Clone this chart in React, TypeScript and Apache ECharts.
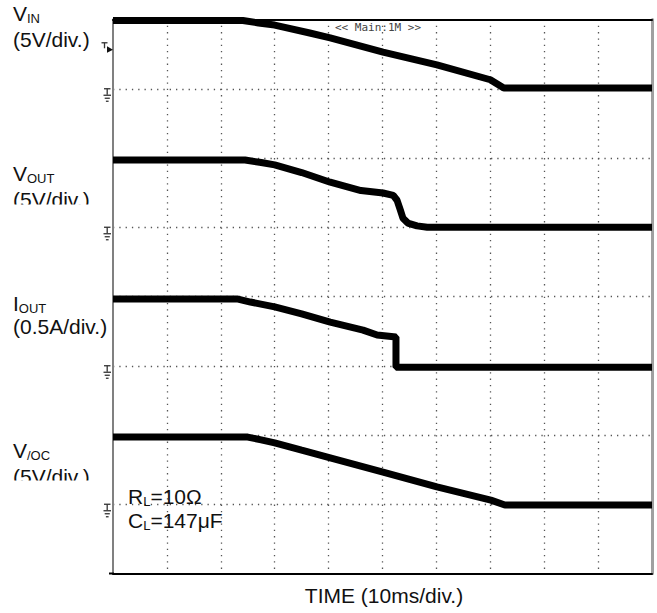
import React, { useEffect, useRef } from 'react';
import * as echarts from 'echarts';

// Screen divisions
const X_DIVS = 10;
const Y_DIVS = 8;

// Traces, time in divisions (10 ms/div), level in screen divisions
const VIN_TIME = [0, 2.41, 2.7, 3.0, 3.65, 4.03, 5.01, 6.01, 7.0, 7.25, 10];
const VIN_LEVEL = [7.985, 7.985, 7.95, 7.92, 7.805, 7.735, 7.53, 7.345, 7.13, 7.01, 7.01];

const VOUT_TIME = [0, 2.45, 2.75, 3.0, 3.5, 4.03, 4.6, 5.01, 5.2, 5.27, 5.33, 5.38, 5.47, 5.64, 5.83, 10];
const VOUT_LEVEL = [5.97, 5.97, 5.935, 5.9, 5.79, 5.65, 5.53, 5.495, 5.46, 5.39, 5.25, 5.13, 5.06, 5.02, 5.0, 5.0];

const IOUT_TIME = [0, 2.3, 2.55, 3.0, 3.5, 4.03, 4.64, 4.9, 5.25, 5.25, 10];
const IOUT_LEVEL = [3.965, 3.965, 3.92, 3.85, 3.75, 3.63, 3.515, 3.445, 3.415, 2.98, 2.98];

const VOC_TIME = [0, 2.5, 2.75, 3.0, 3.5, 4.03, 5.01, 6.01, 7.01, 7.27, 10];
const VOC_LEVEL = [1.97, 1.97, 1.93, 1.885, 1.78, 1.67, 1.465, 1.25, 1.06, 0.99, 0.99];

const GROUND_LEVELS = [7, 5, 3, 1];
const TRIGGER_LEVEL = 7.57;

const FONT = "'Liberation Sans', Arial, Helvetica, sans-serif";

function zip(t: number[], v: number[]) {
  return t.map((x, i) => [x, v[i]]);
}

export default function App() {
  const ref = useRef<HTMLDivElement>(null);

  useEffect(() => {
    if (!ref.current) return;
    const chart = echarts.init(ref.current, null, { renderer: 'svg' });

    const dotted = { color: '#555', width: 1.3, type: [1.3, 5] as any };
    const traceStyle = { color: '#000', width: 7 };

    const mkSeries = (name: string, t: number[], v: number[]) => ({
      name,
      type: 'line',
      data: zip(t, v),
      showSymbol: false,
      symbol: 'none',
      clip: false,
      silent: true,
      z: 3,
      lineStyle: traceStyle,
    });

    chart.setOption({
      animation: false,
      backgroundColor: '#fff',
      grid: { left: 113, top: 19.5, width: 539, height: 554 },
      xAxis: [
        {
          type: 'value', min: 0, max: X_DIVS, interval: 1, position: 'bottom',
          axisLine: { show: true, onZero: false, lineStyle: { color: '#000', width: 2 } },
          axisTick: { show: false }, axisLabel: { show: false },
          splitLine: { show: true, showMinLine: false, showMaxLine: false, lineStyle: dotted },
        },
        {
          type: 'value', min: 0, max: X_DIVS, interval: 1, position: 'top',
          axisLine: { show: true, onZero: false, lineStyle: { color: '#000', width: 2 } },
          axisTick: { show: false }, axisLabel: { show: false }, splitLine: { show: false },
        },
      ],
      yAxis: [
        {
          type: 'value', min: 0, max: Y_DIVS, interval: 1, position: 'left',
          axisLine: { show: true, onZero: false, lineStyle: { color: '#808080', width: 2 } },
          axisTick: { show: false }, axisLabel: { show: false },
          splitLine: { show: true, showMinLine: false, showMaxLine: false, lineStyle: dotted },
        },
        {
          type: 'value', min: 0, max: Y_DIVS, interval: 1, position: 'right',
          axisLine: { show: true, onZero: false, lineStyle: { color: '#a0a0a0', width: 3 } },
          axisTick: { show: false }, axisLabel: { show: false }, splitLine: { show: false },
        },
      ],
      series: [
        mkSeries('VIN', VIN_TIME, VIN_LEVEL),
        mkSeries('VOUT', VOUT_TIME, VOUT_LEVEL),
        mkSeries('IOUT', IOUT_TIME, IOUT_LEVEL),
        mkSeries('VOC', VOC_TIME, VOC_LEVEL),
      ],
    });

    const canvas = document.createElement('canvas');
    const ctx = canvas.getContext('2d') as CanvasRenderingContext2D;
    const tw = (s: string, size: number) => {
      ctx.font = `${size}px 'Liberation Sans'`;
      return ctx.measureText(s).width;
    };
    const text = (x: number, y: number, s: string, size: number, align = 'left', extra: any = {}) => ({
      type: 'text', x, y, z: 10,
      style: { text: s, fontSize: size, fontFamily: FONT, fill: '#111', align, verticalAlign: 'middle', ...extra },
    });
    const subLabel = (x: number, yc: number, main: string, sub: string, rest = '', size = 21, subSize = 13) => {
      const els: any[] = [];
      const baseline = yc + 0.358 * size;
      els.push(text(x, yc, main, size));
      const x2 = x + tw(main, size);
      els.push(text(x2, baseline - 2.5, sub, subSize));
      if (rest) els.push(text(x2 + tw(sub, subSize), yc, rest, size));
      return els;
    };
    const line = (x1: number, y1: number, x2: number, y2: number, color = '#333', w = 1.3) => ({
      type: 'line', z: 10, shape: { x1, y1, x2, y2 }, style: { stroke: color, lineWidth: w },
    });

    const graphics: any[] = [];
    // Channel labels
    graphics.push(...subLabel(13, 13.5, 'V', 'IN'));
    graphics.push(text(13, 39.5, '(5V/div.)', 21));
    graphics.push(...subLabel(13, 173, 'V', 'OUT'));
    graphics.push(text(13, 199.5, '(5V/div.)', 21));
    graphics.push(...subLabel(13, 303.5, 'I', 'OUT'));
    graphics.push(text(13, 326, '(0.5A/div.)', 21));
    graphics.push(...subLabel(13, 450, 'V', '/OC'));
    graphics.push(text(13, 476, '(5V/div.)', 21));
    // Clipped label bottoms
    graphics.push({ type: 'rect', z: 20, shape: { x: 0, y: 204.5, width: 102, height: 10 }, style: { fill: '#fff' } });
    graphics.push({ type: 'rect', z: 20, shape: { x: 0, y: 480.5, width: 102, height: 10 }, style: { fill: '#fff' } });
    // Conditions
    graphics.push(...subLabel(128, 496.5, 'R', 'L', '=10Ω'));
    graphics.push(...subLabel(128, 520.5, 'C', 'L', '=147μF'));
    // Time axis title
    graphics.push(text(384, 595.5, 'TIME (10ms/div.)', 21, 'center'));
    // Scope banner
    graphics.push(text(335, 27, '<< Main:1M >>', 11, 'left', { fontFamily: "'DejaVu Sans Mono', monospace", fill: '#444' }));
    // Bottom border extends slightly left of the graticule
    graphics.push(line(109, 573.5, 114, 573.5, '#000', 2));

    // Ground markers
    GROUND_LEVELS.forEach((g) => {
      const gy = chart.convertToPixel({ yAxisIndex: 0 }, g) as number;
      graphics.push(line(104, gy, 110.5, gy));
      graphics.push(line(107.2, gy, 107.2, gy + 6));
      graphics.push(line(103.5, gy + 6.5, 111, gy + 6.5));
      graphics.push(line(104.7, gy + 9.5, 109.8, gy + 9.5));
      graphics.push(line(105.9, gy + 12.5, 108.6, gy + 12.5));
    });
    // Trigger marker
    const ty = chart.convertToPixel({ yAxisIndex: 0 }, TRIGGER_LEVEL) as number;
    graphics.push(line(101.5, ty - 6.5, 107.5, ty - 6.5));
    graphics.push(line(104.5, ty - 6.5, 104.5, ty - 1));
    graphics.push({
      type: 'polygon', z: 10,
      shape: { points: [[107, ty - 3], [113, ty + 0.5], [107, ty + 3.5]] },
      style: { fill: '#111' },
    });

    chart.setOption({ graphic: graphics });

    return () => chart.dispose();
  }, []);

  return (
    <div
      ref={ref}
      style={{ position: 'fixed', left: 0, top: 0, width: 657, height: 613, background: '#fff' }}
    />
  );
}
